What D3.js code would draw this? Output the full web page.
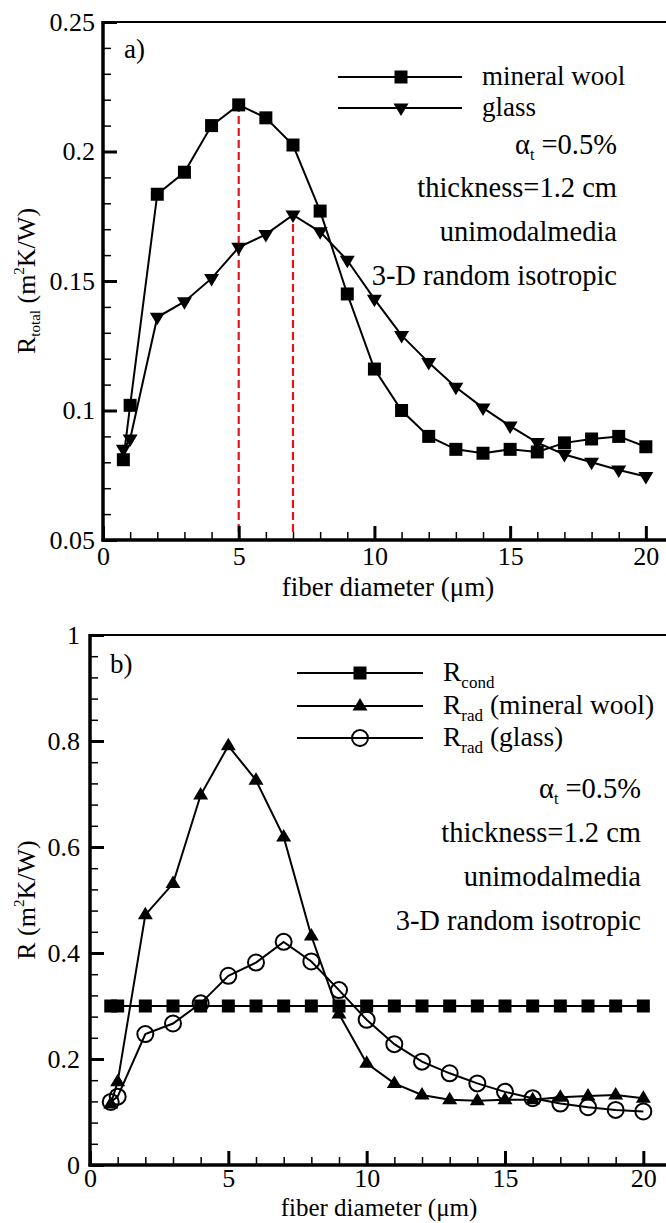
<!DOCTYPE html>
<html>
<head>
<meta charset="utf-8">
<script src="https://cdn.jsdelivr.net/npm/d3@7"></script>
<style>
  body { margin: 0; background: #fff; }
  svg, svg text { font-family: "Liberation Serif", "Times New Roman", Times, serif; }
</style>
</head>
<body>
<svg id="chart" width="666" height="1223" font-family="Liberation Serif, serif"></svg>
<script>
// Fiber diameters (µm) used in both panels
const diameters = [0.75, 1, 2, 3, 4, 5, 6, 7, 8, 9, 10, 11, 12, 13, 14, 15, 16, 17, 18, 19, 20];

// Panel a) total thermal resistance (m²K/W)
const woolTotal  = [0.081, 0.102, 0.1835, 0.192, 0.210, 0.218, 0.213, 0.2025, 0.177, 0.145, 0.116, 0.100, 0.090, 0.085, 0.0835, 0.085, 0.084, 0.0875, 0.089, 0.090, 0.086];
const glassTotal = [0.085, 0.089, 0.136, 0.142, 0.151, 0.163, 0.168, 0.1755, 0.169, 0.158, 0.143, 0.129, 0.1185, 0.109, 0.101, 0.094, 0.0876, 0.083, 0.080, 0.077, 0.0745];

// Panel b) conductive and radiative resistances (m²K/W)
const rCond     = [0.3, 0.3, 0.3, 0.3, 0.3, 0.3, 0.3, 0.3, 0.3, 0.3, 0.3, 0.3, 0.3, 0.3, 0.3, 0.3, 0.3, 0.3, 0.3, 0.3, 0.3];
const rRadWool  = [0.115, 0.157, 0.472, 0.531, 0.698, 0.791, 0.726, 0.619, 0.432, 0.285, 0.192, 0.154, 0.132, 0.123, 0.121, 0.123, 0.123, 0.128, 0.130, 0.132, 0.126];
const rRadGlass = [0.119, 0.129, 0.247, 0.267, 0.305, 0.357, 0.382, 0.421, 0.384, 0.330, 0.274, 0.228, 0.195, 0.173, 0.154, 0.138, 0.126, 0.116, 0.109, 0.104, 0.101];

// Axis ticks
const xTicks = [0, 5, 10, 15, 20];
const xTickLabels = ["0", "5", "10", "15", "20"];
const yTicksA = [0.05, 0.1, 0.15, 0.2, 0.25];
const yTickLabelsA = ["0.05", "0.1", "0.15", "0.2", "0.25"];
const yTicksB = [0, 0.2, 0.4, 0.6, 0.8, 1];
const yTickLabelsB = ["0", "0.2", "0.4", "0.6", "0.8", "1"];

// Annotation lines
const notes = ["thickness=1.2 cm", "unimodalmedia", "3-D random isotropic"];

const FONT = "'Liberation Serif', 'Times New Roman', Times, serif";
const NOTE_SIZE = 28.5;
const svg = d3.select("#chart");

// Marker shapes
function markerPath(kind) {
  if (kind === "square") return "M-6.5,-6.5H6.5V6.5H-6.5Z";
  if (kind === "down") return "M-7.5,-4.5H7.5L0,8Z";
  return "M-7.5,4.5H7.5L0,-8Z";
}
function drawMarker(g, kind, x, y) {
  if (kind === "circle") {
    g.append("circle").attr("cx", x).attr("cy", y).attr("r", 8)
      .attr("fill", "none").attr("stroke", "#000").attr("stroke-width", 2);
  } else {
    g.append("path").attr("d", markerPath(kind))
      .attr("transform", `translate(${x},${y})`).attr("fill", "#000");
  }
}

function drawAxes(g, x, y, o) {
  const [x0, x1] = x.range();
  const [y0, y1] = y.range();
  // major / minor ticks, pointing inward
  const ax = g.append("g").attr("transform", `translate(0,${y0})`)
    .call(d3.axisBottom(x).tickValues(xTicks).tickSize(-14).tickPadding(o.xPad)
      .tickFormat((d, i) => xTickLabels[i]));
  const axm = g.append("g").attr("transform", `translate(0,${y0})`)
    .call(d3.axisBottom(x).tickValues(d3.range(1, 21).filter(v => v % 5 !== 0)).tickSize(-8).tickFormat(""));
  const ay = g.append("g").attr("transform", `translate(${x0},0)`)
    .call(d3.axisLeft(y).tickValues(o.yTicks).tickSize(-14).tickPadding(o.yPad)
      .tickFormat((d, i) => o.yLabels[i]));
  const aym = g.append("g").attr("transform", `translate(${x0},0)`)
    .call(d3.axisLeft(y).tickValues(o.yMinor).tickSize(-8).tickFormat(""));
  [ax, axm, ay, aym].forEach(a => {
    a.select(".domain").remove();
    a.attr("font-family", FONT).attr("font-size", 26);
    a.selectAll("text").attr("font-family", FONT).attr("font-size", 26).attr("fill", "#000");
  });
  ax.selectAll("line").attr("stroke-width", 3);
  ay.selectAll("line").attr("stroke-width", 3);
  axm.selectAll("line").attr("stroke-width", 1.5);
  aym.selectAll("line").attr("stroke-width", 1.5);
  // frame
  g.append("line").attr("x1", x0).attr("x2", x1 + 10).attr("y1", y1).attr("y2", y1)
    .attr("stroke", "#000").attr("stroke-width", 2);
  g.append("line").attr("x1", x0).attr("x2", x0).attr("y1", y1 - 1).attr("y2", y0 + 1.5)
    .attr("stroke", "#000").attr("stroke-width", 3.5);
  g.append("line").attr("x1", x0 - 1.5).attr("x2", x1 + 10).attr("y1", y0).attr("y2", y0)
    .attr("stroke", "#000").attr("stroke-width", 3.5);
}

function drawSeries(g, x, y, values, kind) {
  const pts = diameters.map((d, i) => [x(d), y(values[i])]);
  g.append("path").attr("d", d3.line()(pts))
    .attr("fill", "none").attr("stroke", "#000").attr("stroke-width", 2);
  const m = g.append("g");
  pts.forEach(p => drawMarker(m, kind, p[0], p[1]));
}

function txt(g) {
  return g.append("text").attr("font-family", FONT).attr("fill", "#000");
}

function xTitle(g, cx, baseline, size) {
  txt(g).attr("x", cx).attr("y", baseline).attr("text-anchor", "middle")
    .attr("font-size", size).text("fiber diameter (\u03bcm)");
}

function yTitle(g, bx, cy, sub) {
  const t = txt(g).attr("transform", `translate(${bx},${cy}) rotate(-90)`)
    .attr("text-anchor", "middle").attr("font-size", 26);
  t.append("tspan").text("R");
  if (sub) t.append("tspan").attr("font-size", 15).attr("dy", 5).text(sub);
  t.append("tspan").attr("dy", sub ? -5 : 0).text(" (m");
  t.append("tspan").attr("font-size", 15).attr("dy", -11).text("2");
  t.append("tspan").attr("dy", 11).text("K/W)");
}

function annotations(g, rightX, baselines) {
  const a = txt(g).attr("x", rightX).attr("y", baselines[0])
    .attr("text-anchor", "end").attr("font-size", NOTE_SIZE);
  a.append("tspan").text("\u03b1");
  a.append("tspan").attr("font-size", 16).attr("dy", 6).text("t");
  a.append("tspan").attr("dy", -6).text(" =0.5%");
  notes.forEach((s, i) => {
    txt(g).attr("x", rightX).attr("y", baselines[i + 1])
      .attr("text-anchor", "end").attr("font-size", NOTE_SIZE).text(s);
  });
}

// ---------- Panel a) ----------
{
  const g = svg.append("g");
  const x = d3.scaleLinear().domain([0, 21]).range([103, 673]);
  const y = d3.scaleLinear().domain([0.05, 0.25]).range([540, 22]);

  // dashed red guides at each peak
  [woolTotal, glassTotal].forEach(vals => {
    const k = d3.maxIndex(vals);
    g.append("line").attr("x1", x(diameters[k])).attr("x2", x(diameters[k]))
      .attr("y1", y(0.05) - 8).attr("y2", y(vals[k]))
      .attr("stroke", "#e8141c").attr("stroke-width", 2.2).attr("stroke-dasharray", "8,4");
  });

  drawSeries(g, x, y, woolTotal, "square");
  drawSeries(g, x, y, glassTotal, "down");
  drawAxes(g, x, y, { xPad: 7, yPad: 8, yTicks: yTicksA, yLabels: yTickLabelsA,
    yMinor: d3.range(0.06, 0.25, 0.01).filter(v => Math.abs(v * 20 - Math.round(v * 20)) > 1e-6) });

  txt(g).attr("x", 124).attr("y", 58).attr("font-size", 27).text("a)");

  // legend
  const leg = [["mineral wool", "square", 77], ["glass", "down", 108]];
  leg.forEach(([label, kind, ly]) => {
    g.append("line").attr("x1", 338).attr("x2", 462).attr("y1", ly).attr("y2", ly)
      .attr("stroke", "#000").attr("stroke-width", 2);
    drawMarker(g, kind, 401, ly);
    txt(g).attr("x", 482).attr("y", ly + 8).attr("font-size", 27).text(label);
  });

  annotations(g, 617, [154, 197, 241, 285]);
  xTitle(g, 388, 596, 27);
  yTitle(g, 35, 281, "total");
}

// ---------- Panel b) ----------
{
  const g = svg.append("g");
  const x = d3.scaleLinear().domain([0, 21]).range([90, 671]);
  const y = d3.scaleLinear().domain([0, 1]).range([1165, 635]);

  drawSeries(g, x, y, rCond, "square");
  drawSeries(g, x, y, rRadWool, "up");
  drawSeries(g, x, y, rRadGlass, "circle");
  drawAxes(g, x, y, { xPad: 4, yPad: 10, yTicks: yTicksB, yLabels: yTickLabelsB,
    yMinor: d3.range(0.04, 1, 0.04).filter(v => Math.abs(v * 5 - Math.round(v * 5)) > 1e-6) });

  txt(g).attr("x", 110).attr("y", 673).attr("font-size", 27).text("b)");

  const leg = [["cond", "", "square", 673], ["rad", " (mineral wool)", "up", 706], ["rad", " (glass)", "circle", 738]];
  leg.forEach(([sub, rest, kind, ly]) => {
    g.append("line").attr("x1", 297).attr("x2", 423).attr("y1", ly).attr("y2", ly)
      .attr("stroke", "#000").attr("stroke-width", 2);
    drawMarker(g, kind, 360, ly);
    const t = txt(g).attr("x", 443).attr("y", ly + 8).attr("font-size", 27.5);
    t.append("tspan").text("R");
    t.append("tspan").attr("font-size", 17).attr("dy", 7).text(sub);
    if (rest) t.append("tspan").attr("dy", -7).text(rest);
  });

  annotations(g, 641, [798, 842, 886, 930]);
  xTitle(g, 379, 1216, 25);
  yTitle(g, 35, 900, null);
}
</script>
</body>
</html>
